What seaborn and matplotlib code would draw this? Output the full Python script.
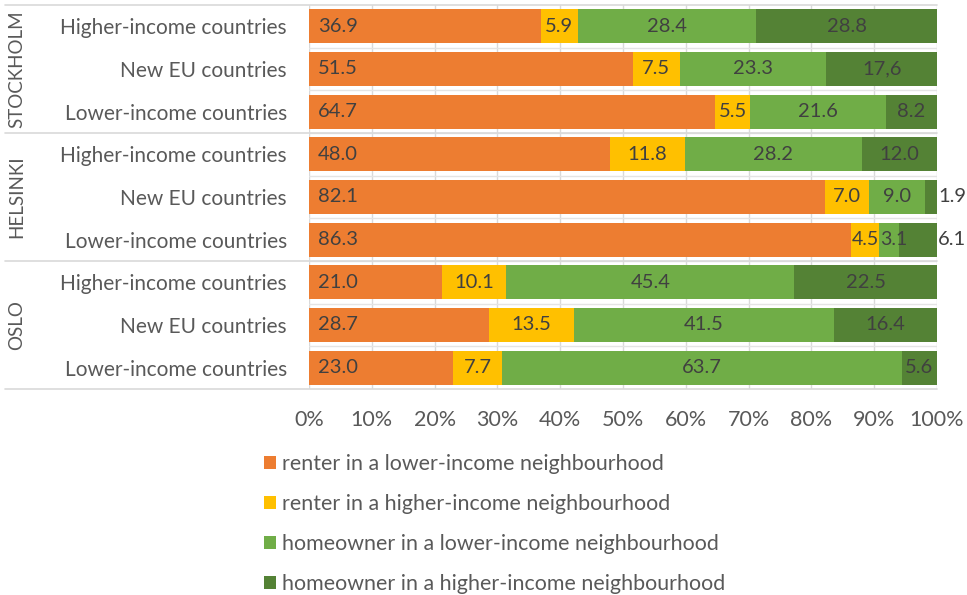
import numpy as np
import pandas as pd
import matplotlib
matplotlib.use("Agg")
import matplotlib.pyplot as plt
import matplotlib.transforms as mtrans
from matplotlib.lines import Line2D
from matplotlib.patches import Patch
import seaborn as sns

# ---------------- data ----------------
cities = ["STOCKHOLM", "HELSINKI", "OSLO"]
origins = ["Higher-income countries", "New EU countries", "Lower-income countries"]
series = [
    "renter in a lower-income neighbourhood",
    "renter in a higher-income neighbourhood",
    "homeowner in a lower-income neighbourhood",
    "homeowner in a higher-income neighbourhood",
]
renter_low = [36.9, 51.5, 64.7, 48.0, 82.1, 86.3, 21.0, 28.7, 23.0]
renter_high = [5.9, 7.5, 5.5, 11.8, 7.0, 4.5, 10.1, 13.5, 7.7]
owner_low = [28.4, 23.3, 21.6, 28.2, 9.0, 3.1, 45.4, 41.5, 63.7]
owner_high = [28.8, 17.6, 8.2, 12.0, 1.9, 6.1, 22.5, 16.4, 5.6]
owner_high_labels = ["28.8", "17,6", "8.2", "12.0", "1.9", "6.1", "22.5", "16.4", "5.6"]
x_ticks = [0, 10, 20, 30, 40, 50, 60, 70, 80, 90, 100]
x_tick_labels = ["0%", "10%", "20%", "30%", "40%", "50%", "60%", "70%", "80%", "90%", "100%"]

colors = ["#ED7D31", "#FFC000", "#70AD47", "#548235"]

# ---------------- build table ----------------
vals = np.array([renter_low, renter_high, owner_low, owner_high]).T  # rows x series
rows = [f"r{i}" for i in range(len(renter_low))]
row_labels = [o for _ in cities for o in origins]
norm = vals / vals.sum(axis=1, keepdims=True) * 100
cum = np.cumsum(norm, axis=1)
df = pd.DataFrame({"row": rows})
for j in range(4):
    df[f"cum{j}"] = cum[:, j]

labels = []
for i in range(len(rows)):
    labels.append([f"{renter_low[i]:.1f}", f"{renter_high[i]:.1f}", f"{owner_low[i]:.1f}", owner_high_labels[i]])

# ---------------- style ----------------
sns.set_theme(style="white")
plt.rcParams["font.family"] = ["Lato", "DejaVu Sans"]
txt_gray = "#595959"

W, H = 967, 595
fig = plt.figure(figsize=(W / 100, H / 100), dpi=100)
ax = fig.add_axes([309 / W, 1 - 389 / H, (937 - 309) / W, (389 - 5) / H])

for j in reversed(range(4)):
    sns.barplot(data=df, x=f"cum{j}", y="row", order=rows, orient="h",
                color=colors[j], saturation=1, width=0.8, ax=ax,
                linewidth=0, edgecolor="none", zorder=2)

ax.set_xlim(0, 100)
ax.set_ylim(len(rows) - 0.5, -0.5)
ax.set_xticks(x_ticks)
ax.set_xticklabels(x_tick_labels, fontsize=15.5, color=txt_gray)
ax.set_yticks(range(len(rows)))
ax.set_yticklabels(row_labels, fontsize=15, color=txt_gray)
ax.tick_params(axis="x", length=0, pad=15)
ax.tick_params(axis="y", length=0, pad=16)
ax.set_xlabel("")
ax.set_ylabel("")
for s in ax.spines.values():
    s.set_visible(False)
ax.xaxis.grid(True, color="#d9d9d9", linewidth=1, zorder=0)
ax.yaxis.grid(False)
ax.set_axisbelow(True)

# faint row boundary lines inside plot
for b in np.arange(0.5, len(rows) - 0.5, 1):
    ax.axhline(b, color="#e4e4e4", linewidth=1, zorder=1)

# group separators extending into label area
blend = mtrans.blended_transform_factory(fig.transFigure, ax.transData)
for b in [-0.5, 2.5, 5.5, 8.5]:
    ax.add_line(Line2D([5 / W, 937 / W], [b, b], transform=blend, color="#d9d9d9",
                       linewidth=1.2, clip_on=False, zorder=1))

# city labels
for k, c in enumerate(cities):
    ax.text(17 / W, 3 * k + 1, c, transform=blend, rotation=90, ha="center", va="center",
            fontsize=13.5, color=txt_gray)

# value labels
outside = {(4, 3), (5, 3)}
tight_right = {(5, 1)}   # label pushed to segment end
tight_left = {(5, 2)}    # label pushed to segment start
for i in range(len(rows)):
    for j in range(4):
        start = cum[i, j] - norm[i, j]
        fs = 14.5
        if j == 0:
            x, ha = start + 1.4, "left"
        elif (i, j) in outside:
            x, ha = 100.2, "left"
        elif (i, j) in tight_right:
            x, ha, fs = cum[i, j] - 0.1, "right", 14
        elif (i, j) in tight_left:
            x, ha, fs = start + 0.1, "left", 14
        else:
            x, ha = start + norm[i, j] / 2, "center"
        ax.text(x, i, labels[i][j], ha=ha, va="center", fontsize=fs, color="#404040",
                zorder=5, clip_on=False)

# legend
handles = [Patch(facecolor=c, edgecolor="none") for c in colors]
fig.legend(handles, series, loc="upper left", bbox_to_anchor=(264 / W, 1 - 454 / H),
           frameon=False, fontsize=15.4, labelcolor=txt_gray, handlelength=0.56,
           handleheight=0.56, handletextpad=0.28, labelspacing=0.93, borderpad=0,
           borderaxespad=0)

fig.savefig("out.png", dpi=100)
